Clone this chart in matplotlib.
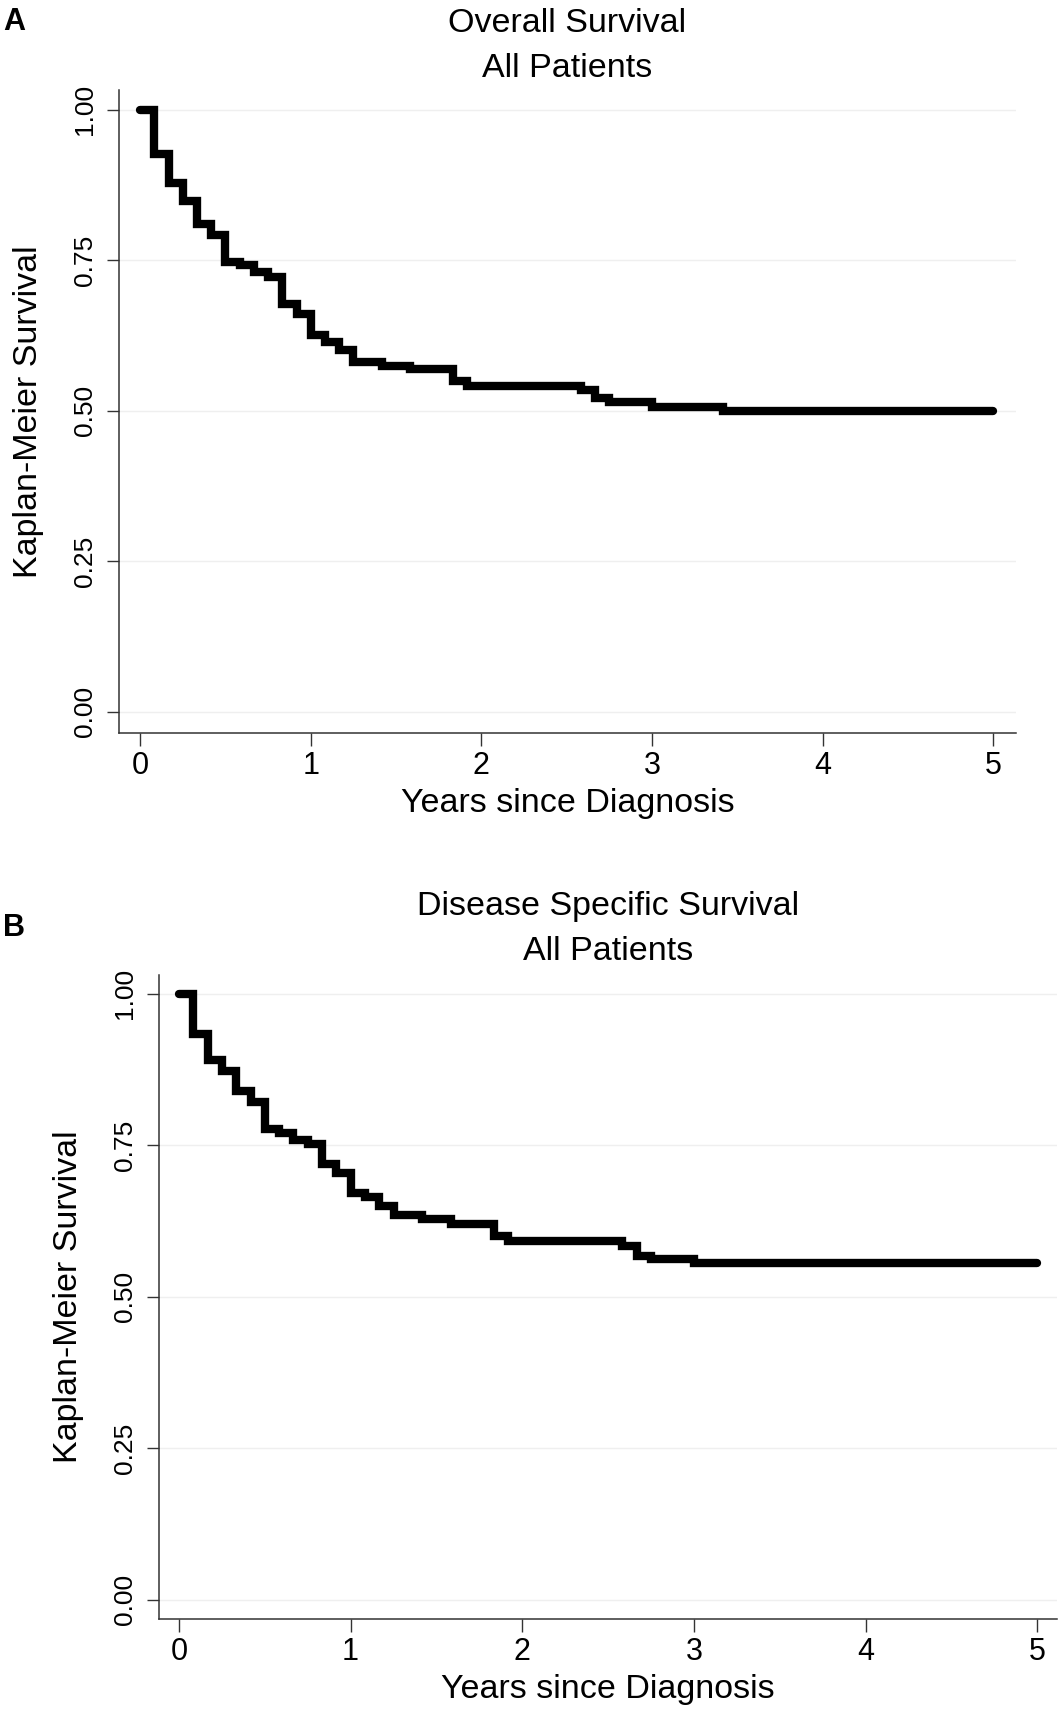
import matplotlib
matplotlib.use('Agg')
import matplotlib.pyplot as plt

plt.rcParams['font.family'] = ['Liberation Sans', 'DejaVu Sans']

# Kaplan-Meier step values (years, survival)
os_years = [0, 0.083, 0.167, 0.25, 0.333, 0.417, 0.5, 0.583, 0.667, 0.75, 0.833, 0.917,
            1.0, 1.083, 1.167, 1.25, 1.417, 1.583, 1.833, 1.917, 2.583, 2.667, 2.75,
            3.0, 3.417, 5.0]
os_surv = [1.0, 0.927, 0.879, 0.848, 0.811, 0.792, 0.748, 0.743, 0.730, 0.723, 0.678, 0.661,
           0.626, 0.615, 0.601, 0.582, 0.575, 0.569, 0.549, 0.542, 0.534, 0.521, 0.515,
           0.507, 0.500, 0.500]

dss_years = [0, 0.083, 0.167, 0.25, 0.333, 0.417, 0.5, 0.583, 0.667, 0.75, 0.833, 0.917,
             1.0, 1.083, 1.167, 1.25, 1.417, 1.583, 1.833, 1.917, 2.583, 2.667, 2.75,
             3.0, 5.0]
dss_surv = [1.0, 0.934, 0.890, 0.873, 0.840, 0.822, 0.776, 0.770, 0.758, 0.752, 0.719, 0.705,
            0.671, 0.664, 0.649, 0.635, 0.628, 0.620, 0.600, 0.592, 0.584, 0.567, 0.562,
            0.555, 0.555]

x_ticks = [0, 1, 2, 3, 4, 5]
y_ticks = [0.00, 0.25, 0.50, 0.75, 1.00]
y_ticklabels = ['0.00', '0.25', '0.50', '0.75', '1.00']

W, H = 1063, 1711
fig = plt.figure(figsize=(W / 100, H / 100), dpi=100)

axis_col = '#333333'


def km_panel(rect, xlim, ylim, years, surv, title, letter, letter_y, title_y):
    ax = fig.add_axes(rect)
    ax.step(years, surv, where='post', color='black', lw=6,
            solid_capstyle='round', solid_joinstyle='miter')
    ax.set_xlim(*xlim)
    ax.set_ylim(*ylim)
    ax.set_xticks(x_ticks)
    ax.set_yticks(y_ticks)
    ax.set_yticklabels(y_ticklabels)
    for s in ['top', 'right']:
        ax.spines[s].set_visible(False)
    for s in ['left', 'bottom']:
        ax.spines[s].set_color(axis_col)
        ax.spines[s].set_linewidth(1.1)
    ax.tick_params(axis='both', length=9, width=1.0, color=axis_col,
                   labelcolor='black')
    ax.tick_params(axis='x', pad=4, labelsize=22)
    ax.tick_params(axis='y', pad=7, labelsize=19, labelrotation=90)
    for lab in ax.get_yticklabels():
        lab.set_va('center')
    ax.grid(axis='y', color='#efefef', lw=1.0)
    ax.set_axisbelow(True)
    ax.set_xlabel('Years since Diagnosis', fontsize=24.5)
    ax.set_ylabel('Kaplan-Meier Survival', fontsize=24.5)
    ax.xaxis.label.set_va('center')
    ax.yaxis.label.set_va('center')
    ax.xaxis.set_label_coords(0.5, -0.11)
    ax.yaxis.set_label_coords(-0.101, 0.5)
    cx = rect[0] + rect[2] / 2
    fig.text(cx, title_y, title, ha='center', va='center', fontsize=24.5,
             linespacing=1.6)
    fig.text(3 / W, letter_y, letter, ha='left', va='center', fontsize=22,
             fontweight='bold')
    return ax


# panel A: axes box in pixels (left 119, right 1016, top 90, bottom 733)
km_panel([119 / W, 1 - 733 / H, (1016 - 119) / W, (733 - 90) / H],
         (-0.123, 5.132), (-0.035, 1.033), os_years, os_surv,
         'Overall Survival\nAll Patients', 'A', 1 - 22 / H, 1 - 46 / H)

# panel B: axes box in pixels (left 159, right 1057, top 975, bottom 1619)
km_panel([159 / W, 1 - 1619 / H, (1057 - 159) / W, (1619 - 975) / H],
         (-0.116, 5.114), (-0.032, 1.031), dss_years, dss_surv,
         'Disease Specific Survival\nAll Patients', 'B', 1 - 928 / H, 1 - 929 / H)

fig.savefig('out.png', dpi=100)
